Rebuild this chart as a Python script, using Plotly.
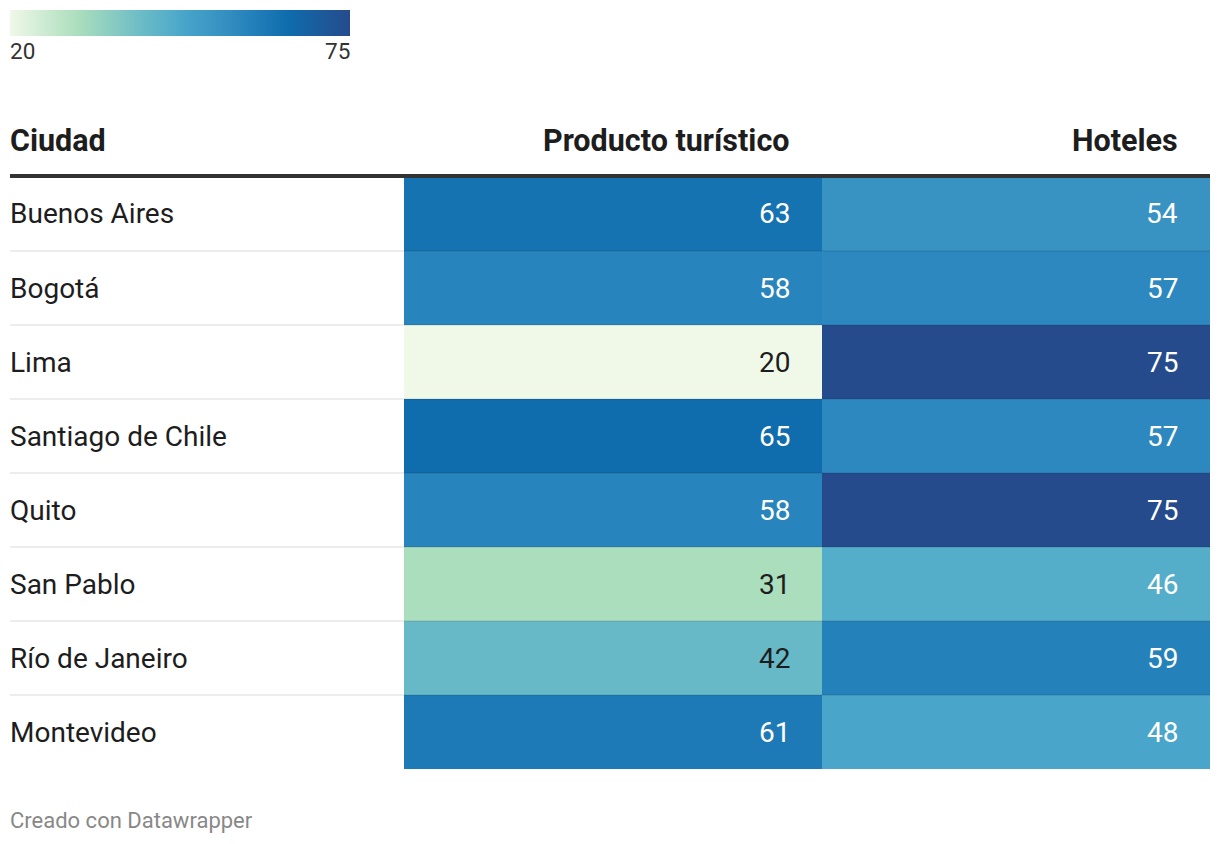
import plotly.graph_objects as go

# ---- data ----
cities = ["Buenos Aires", "Bogotá", "Lima", "Santiago de Chile", "Quito",
          "San Pablo", "Río de Janeiro", "Montevideo"]
producto = [63, 58, 20, 65, 58, 31, 42, 61]
hoteles = [54, 57, 75, 57, 75, 46, 59, 48]
headers = ["Ciudad", "Producto turístico", "Hoteles"]
legend_labels = ["20", "75"]
footer = "Creado con Datawrapper"

W, H = 1220, 844
FONT = "Roboto"
DARK = "#1d1d1d"

colorscale = [
    [0.0, "#f0f8e8"],
    [0.2, "#abdebd"],
    [0.4, "#67b9c7"],
    [0.4727, "#54adc9"],
    [0.509, "#49a5ca"],
    [0.618, "#3892c2"],
    [0.691, "#2884bc"],
    [0.745, "#1e7ab6"],
    [0.818, "#0f6cad"],
    [1.0, "#264b8c"],
]

zmin, zmax = 20, 75
col_edges = [404, 822, 1210]
z = [[p, h] for p, h in zip(producto, hoteles)]

fig = go.Figure()
fig.add_trace(go.Heatmap(
    z=z, x=col_edges, y=cities,
    colorscale=colorscale, zmin=zmin, zmax=zmax,
    xgap=0, ygap=0, hoverinfo="skip",
    colorbar=dict(
        orientation="h", x=10 / W, xanchor="left", y=1 - 10 / H, yanchor="top",
        len=340, lenmode="pixels", thickness=26, thicknessmode="pixels",
        outlinewidth=0, xpad=0, ypad=0, showticklabels=False, ticks="",
    ),
))

annotations = []
PAD = 2
# city names and values
for c, p, h in zip(cities, producto, hoteles):
    annotations.append(dict(x=10 - PAD, y=c, xref="x", yref="y", text=c, showarrow=False,
                            xanchor="left", yanchor="middle",
                            font=dict(family=FONT, size=28, color=DARK)))
    for val, xr in ((p, 790), (h, 1178)):
        col = "white" if val >= 45 else DARK
        annotations.append(dict(x=xr + PAD, y=c, xref="x", yref="y", text=str(val), showarrow=False,
                                xanchor="right", yanchor="middle",
                                font=dict(family=FONT, size=28, color=col)))

# headers
hy = 1 - 140 / H
for txt, xx, anc in zip(headers, [10 - PAD, 790 + PAD, 1178 + PAD], ["left", "right", "right"]):
    annotations.append(dict(x=xx, y=hy, xref="x", yref="paper", text=f"<b>{txt}</b>",
                            showarrow=False, xanchor=anc, yanchor="middle",
                            font=dict(family=FONT, size=30.5, color=DARK)))

# legend labels
for txt, xx, anc in zip(legend_labels, [10 - PAD, 350 + PAD], ["left", "right"]):
    annotations.append(dict(x=xx, y=1 - 51 / H, xref="x", yref="paper", text=txt,
                            showarrow=False, xanchor=anc, yanchor="middle",
                            font=dict(family=FONT, size=22.5, color="#333333")))

# footer
annotations.append(dict(x=10 - PAD, y=1 - 820 / H, xref="x", yref="paper", text=footer,
                        showarrow=False, xanchor="left", yanchor="middle",
                        font=dict(family=FONT, size=22, color="#888888")))

shapes = []
for i in range(len(cities) - 1):
    shapes.append(dict(type="line", xref="x", yref="y", x0=10, x1=1210,
                       y0=i + 0.5, y1=i + 0.5,
                       line=dict(color="rgba(0,0,0,0.07)", width=2), layer="above"))
shapes.append(dict(type="line", xref="x", yref="paper", x0=10, x1=1210,
                   y0=1 - 176 / H, y1=1 - 176 / H,
                   line=dict(color="#333333", width=4), layer="above"))

fig.update_layout(
    width=W, height=H, margin=dict(l=0, r=0, t=0, b=0),
    paper_bgcolor="white", plot_bgcolor="white",
    xaxis=dict(range=[0, W], visible=False, fixedrange=True),
    yaxis=dict(domain=[1 - 769 / H, 1 - 177 / H], autorange="reversed",
               type="category", visible=False, fixedrange=True),
    annotations=annotations, shapes=shapes, showlegend=False,
)

fig.write_html("out.html", config={"displayModeBar": False},
               post_script="document.body.style.margin='0';document.body.style.overflow='hidden';")
